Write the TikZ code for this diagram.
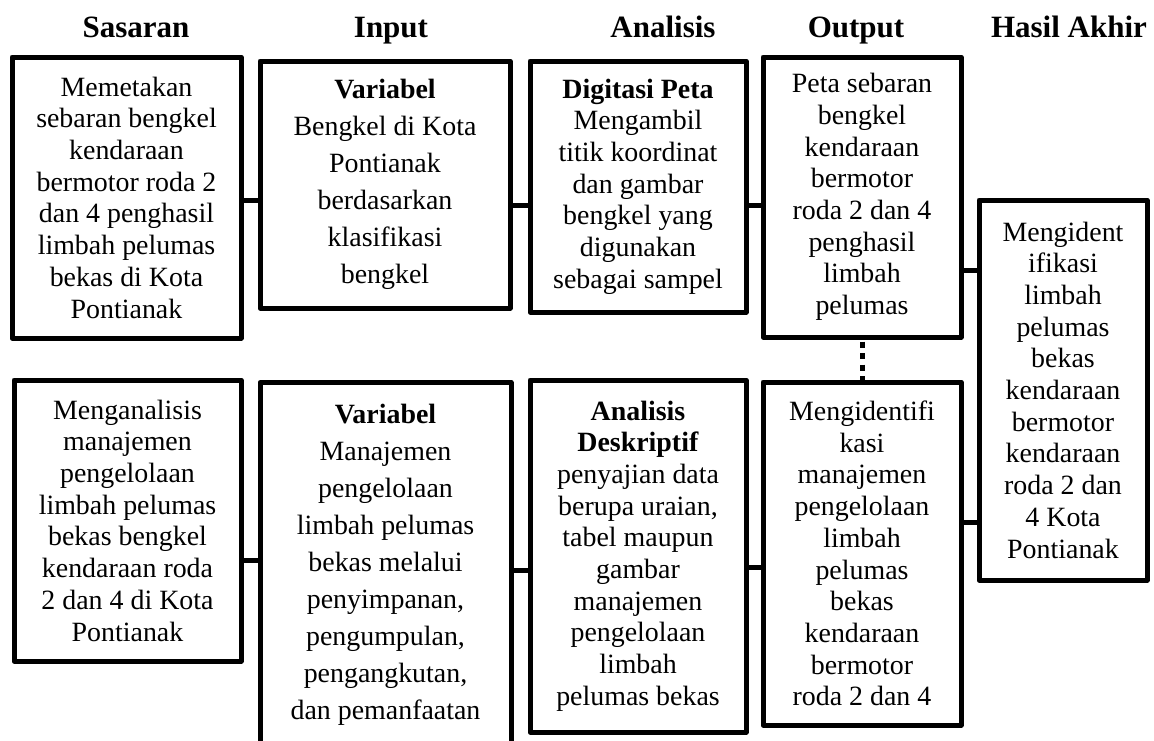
\documentclass[tikz,border=0pt]{standalone}
\usepackage{fontspec}
\setmainfont{Liberation Serif}
\begin{document}
\begin{tikzpicture}[x=1pt,y=-1pt,
  box/.style={draw, line width=5pt, line join=round, align=center, inner sep=0pt,
    font=\fontsize{27.9}{31.7}\selectfont},
  inbox/.style={box, font=\fontsize{27.9}{37}\selectfont},
  head/.style={font=\fontsize{31}{36}\selectfont\bfseries, anchor=base, inner sep=0pt},
  conn/.style={line width=5pt},
  dotline/.style={line width=5pt, dash pattern=on 6pt off 5.5pt, dash phase=-2pt}]
\useasboundingbox (0,0) rectangle (1154,740);
% headers
\node[head] (h1) at (136,37) {Sasaran};
\node[head] (h2) at (391,37) {Input};
\node[head] (h3) at (663,37) {Analisis};
\node[head] (h4) at (856,37) {Output};
\node[head] (h5) at (1069,37) {Hasil Akhir};
% top row
\node[box, minimum width=229pt, minimum height=281pt] (b1) at (126.5,197.5)
  {Memetakan\\ sebaran bengkel\\ kendaraan\\ bermotor roda 2\\ dan 4 penghasil\\ limbah pelumas\\ bekas di Kota\\ Pontianak};
\node[inbox, minimum width=250pt, minimum height=247pt] (b2) at (385,184.5)
  {\textbf{Variabel}\\ Bengkel di Kota\\ Pontianak\\ berdasarkan\\ klasifikasi\\ bengkel};
\node[box, minimum width=216pt, minimum height=251pt] (b3) at (638,186.5)
  {\textbf{Digitasi Peta}\\ Mengambil\\ titik koordinat\\ dan gambar\\ bengkel yang\\ digunakan\\ sebagai sampel};
\node[box, minimum width=198pt, minimum height=280pt] (b4) at (862,197)
  {Peta sebaran\\ bengkel\\ kendaraan\\ bermotor\\ roda 2 dan 4\\ penghasil\\ limbah\\ pelumas};
\node[box, minimum width=168pt, minimum height=380pt] (b5) at (1063,390)
  {Mengident\\ ifikasi\\ limbah\\ pelumas\\ bekas\\ kendaraan\\ bermotor\\ kendaraan\\ roda 2 dan\\ 4 Kota\\ Pontianak};
% bottom row
\node[box, minimum width=227pt, minimum height=281pt] (b6) at (127.5,520.5)
  {Menganalisis\\ manajemen\\ pengelolaan\\ limbah pelumas\\ bekas bengkel\\ kendaraan roda\\ 2 dan 4 di Kota\\ Pontianak};
\node[inbox, minimum width=251pt, inner ysep=22pt, anchor=north] (b7) at (385.5,380)
  {\textbf{Variabel}\\ Manajemen\\ pengelolaan\\ limbah pelumas\\ bekas melalui\\ penyimpanan,\\ pengumpulan,\\ pengangkutan,\\ dan pemanfaatan};
\node[box, minimum width=216pt, minimum height=352pt] (b8) at (638,556)
  {\textbf{Analisis}\\ \textbf{Deskriptif}\\ penyajian data\\ berupa uraian,\\ tabel maupun\\ gambar\\ manajemen\\ pengelolaan\\ limbah\\ pelumas bekas};
\node[box, minimum width=198pt, minimum height=343pt] (b9) at (862,553.5)
  {Mengidentifi\\ kasi\\ manajemen\\ pengelolaan\\ limbah\\ pelumas\\ bekas\\ kendaraan\\ bermotor\\ roda 2 dan 4};
% connectors
\draw[conn] (b1.east |- 0,200) -- (b2.west |- 0,200);
\draw[conn] (b2.east |- 0,205) -- (b3.west |- 0,205);
\draw[conn] (b3.east |- 0,205) -- (b4.west |- 0,205);
\draw[conn] (b4.east |- 0,270) -- (b5.west |- 0,270);
\draw[conn] (b6.east |- 0,560) -- (b7.west |- 0,560);
\draw[conn] (b7.east |- 0,570) -- (b8.west |- 0,570);
\draw[conn] (b8.east |- 0,567) -- (b9.west |- 0,567);
\draw[conn] (b9.east |- 0,522) -- (b5.west |- 0,522);
\draw[dotline] (b4.south) -- (b9.north);
\end{tikzpicture}
\end{document}
